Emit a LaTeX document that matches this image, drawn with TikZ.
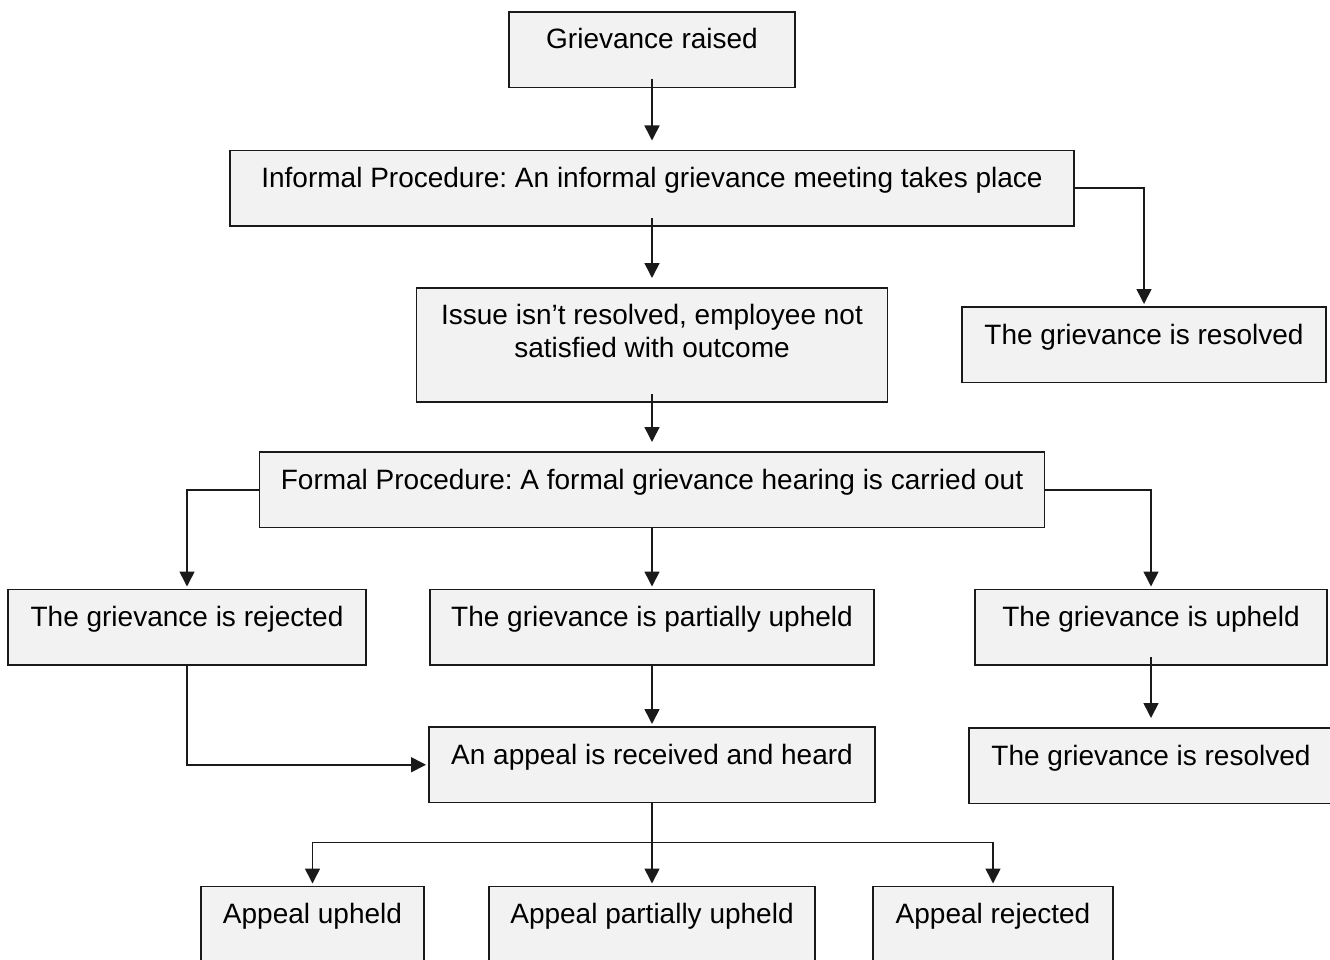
\documentclass[tikz,border=0pt]{standalone}
\usepackage{fontspec}
\setmainfont{Liberation Sans}
\usetikzlibrary{arrows.meta, positioning}
\definecolor{boxfill}{HTML}{F2F2F2}
\definecolor{edge}{HTML}{1A1A1A}
\frenchspacing

\begin{document}
\begin{tikzpicture}[
    x=1pt, y=1pt,
    box/.style={rectangle, draw=edge, line width=1.8pt, fill=boxfill, align=center, inner xsep=0pt, inner ysep=0pt, outer sep=0pt, text height=37pt, text depth=38.5pt, font=\fontsize{28pt}{33pt}\selectfont},
    arrow/.style={-{Triangle[width=15pt,length=15pt]}, line width=1.6pt, draw=edge, shorten >=3pt},
    lift/.style={shorten <=-8pt, shorten >=10pt}
]
\useasboundingbox (0,0) rectangle (1330,-960);
\node[box, minimum width=286pt, anchor=north] (raised) at (652,-12) {Grievance raised};
\node[box, minimum width=844pt, below=63pt of raised] (informal) {Informal Procedure: An informal grievance meeting takes place};
\node[box, minimum width=471pt, below=62pt of informal, text height=69pt, text depth=45pt] (issue) {Issue isn’t resolved, employee not\\satisfied with outcome};
\node[box, minimum width=364pt, anchor=north] (resolved1) at (1144,-307) {The grievance is resolved};
\node[box, minimum width=785pt, below=50pt of issue] (formal) {Formal Procedure: A formal grievance hearing is carried out};
\node[box, minimum width=444pt, below=62pt of formal] (partial) {The grievance is partially upheld};
\node[box, minimum width=358pt, left=64pt of partial] (rejected) {The grievance is rejected};
\node[box, minimum width=352pt, right=101pt of partial] (upheld) {The grievance is upheld};
\node[box, minimum width=446pt, below=62pt of partial] (appeal) {An appeal is received and heard};
\node[box, minimum width=364pt, below=63pt of upheld] (resolved2) {The grievance is resolved};
\node[box, minimum width=326pt, below=84pt of appeal] (apppart) {Appeal partially upheld};
\node[box, minimum width=223pt, left=65pt of apppart] (appup) {Appeal upheld};
\node[box, minimum width=240pt, right=58pt of apppart] (apprej) {Appeal rejected};
\coordinate[below=40pt of appeal] (split);
\draw[arrow, lift] (raised) -- (informal);
\draw[arrow, lift] (informal) -- (issue);
\draw[arrow] (informal.east) -| (resolved1.north);
\draw[arrow, lift] (issue) -- (formal);
\draw[arrow] (formal.west) -| (rejected.north);
\draw[arrow] (formal) -- (partial);
\draw[arrow] (formal.east) -| (upheld.north);
\draw[arrow] (partial) -- (appeal);
\draw[arrow, lift] (upheld) -- (resolved2);
\draw[arrow] (rejected.south) |- (appeal.west);
\draw[line width=1.6pt, draw=edge] (appeal) -- (split);
\draw[arrow] (split) -| (appup.north);
\draw[arrow] (split) -- (apppart);
\draw[arrow] (split) -| (apprej.north);
\end{tikzpicture}
\end{document}
